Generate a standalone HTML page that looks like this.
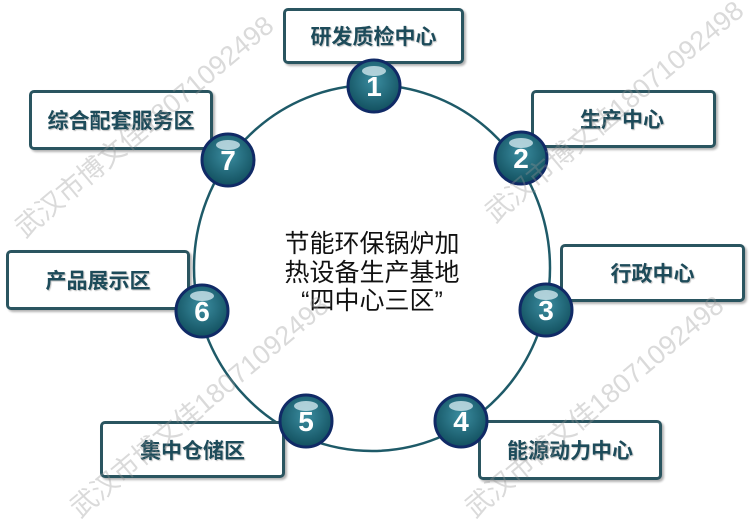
<!DOCTYPE html>
<html><head><meta charset="utf-8"><style>
body{margin:0;width:750px;height:486px;background:#fff;overflow:hidden;position:relative;font-family:"Liberation Sans","Noto Sans CJK SC",sans-serif}
.box{position:absolute;border:3px solid #2a5560;border-radius:5px;background:#fff;box-shadow:2px 2px 2px rgba(0,0,0,.3);box-sizing:border-box;display:flex;align-items:center;justify-content:center;color:#1d4b5a;font-weight:bold;font-size:21px;text-shadow:1px 1px 1px rgba(0,0,0,.25)}
.wm{position:absolute;color:rgba(150,150,150,.35);font-size:27px;transform:rotate(-40deg);transform-origin:left top;white-space:nowrap}
</style></head><body>
<svg width="750" height="486" style="position:absolute;left:0;top:0">
<ellipse cx="372" cy="268" rx="178" ry="183" fill="none" stroke="#1e5a68" stroke-width="2.5"/>
</svg>
<div class="box" style="left:283px;top:8px;width:181px;height:56px">研发质检中心</div>
<div class="box" style="left:531px;top:90px;width:185px;height:58px;justify-content:flex-start;padding-left:46px">生产中心</div>
<div class="box" style="left:29px;top:90px;width:184px;height:60px">综合配套服务区</div>
<div class="box" style="left:6px;top:250px;width:184px;height:60px">产品展示区</div>
<div class="box" style="left:560px;top:244px;width:185px;height:58px">行政中心</div>
<div class="box" style="left:100px;top:421px;width:185px;height:57px">集中仓储区</div>
<div class="box" style="left:478px;top:420px;width:184px;height:60px">能源动力中心</div>
<svg width="750" height="486" style="position:absolute;left:0;top:0">
<defs><radialGradient id="g" cx="50%" cy="40%" r="60%"><stop offset="0" stop-color="#3b8da0"/><stop offset="1" stop-color="#12505f"/></radialGradient></defs>
<g font-family="Liberation Sans,sans-serif" font-weight="bold" font-size="28" fill="#fff" text-anchor="middle">
<g transform="translate(374,86)"><circle r="26" fill="url(#g)" stroke="#102a66" stroke-width="3"/><ellipse cx="0" cy="-15" rx="12" ry="5" fill="#cfe6ec" opacity=".8"/><text y="10">1</text></g>
<g transform="translate(521,158)"><circle r="26" fill="url(#g)" stroke="#102a66" stroke-width="3"/><ellipse cx="0" cy="-15" rx="12" ry="5" fill="#cfe6ec" opacity=".8"/><text y="10">2</text></g>
<g transform="translate(546,310)"><circle r="26" fill="url(#g)" stroke="#102a66" stroke-width="3"/><ellipse cx="0" cy="-15" rx="12" ry="5" fill="#cfe6ec" opacity=".8"/><text y="10">3</text></g>
<g transform="translate(461,421)"><circle r="26" fill="url(#g)" stroke="#102a66" stroke-width="3"/><ellipse cx="0" cy="-15" rx="12" ry="5" fill="#cfe6ec" opacity=".8"/><text y="10">4</text></g>
<g transform="translate(306,421)"><circle r="26" fill="url(#g)" stroke="#102a66" stroke-width="3"/><ellipse cx="0" cy="-15" rx="12" ry="5" fill="#cfe6ec" opacity=".8"/><text y="10">5</text></g>
<g transform="translate(202,311)"><circle r="26" fill="url(#g)" stroke="#102a66" stroke-width="3"/><ellipse cx="0" cy="-15" rx="12" ry="5" fill="#cfe6ec" opacity=".8"/><text y="10">6</text></g>
<g transform="translate(228,160)"><circle r="26" fill="url(#g)" stroke="#102a66" stroke-width="3"/><ellipse cx="0" cy="-15" rx="12" ry="5" fill="#cfe6ec" opacity=".8"/><text y="10">7</text></g>
</g>
<g font-family="Liberation Sans,Noto Sans CJK SC,sans-serif" font-size="25" fill="#111" text-anchor="middle">
<text x="372" y="252">节能环保锅炉加</text>
<text x="372" y="281">热设备生产基地</text>
<text x="372" y="309">“四中心三区”</text>
</g>
</svg>
<div class="wm" style="left:5px;top:215px">武汉市博文佳18071092498</div>
<div class="wm" style="left:475px;top:200px">武汉市博文佳18071092498</div>
<div class="wm" style="left:60px;top:495px">武汉市博文佳18071092498</div>
<div class="wm" style="left:455px;top:495px">武汉市博文佳18071092498</div>
</body></html>
